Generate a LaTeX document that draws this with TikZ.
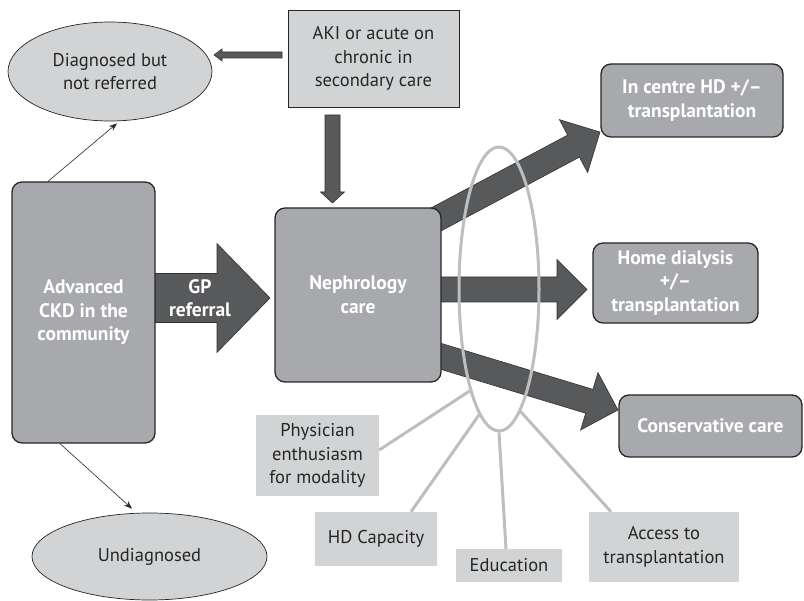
\documentclass[tikz,border=0pt]{standalone}
\usepackage{fontspec}
\setmainfont{PT Sans}
\usetikzlibrary{shapes.geometric,arrows.meta,calc}
\definecolor{midgray}{RGB}{167,169,172}
\definecolor{lightfill}{RGB}{209,211,212}
\definecolor{arrowdark}{RGB}{88,89,91}
\definecolor{ringgray}{RGB}{188,190,192}
\tikzset{
  rbox/.style={rectangle, rounded corners=10pt, fill=midgray, draw=black!85, line width=1.3pt,
    text=white, font=\fontsize{19.5}{23.5}\selectfont\bfseries, align=center, inner sep=0pt},
  fbox/.style={rectangle, fill=lightfill, draw=none, font=\fontsize{18.5}{23.5}\selectfont,
    align=center, inner sep=0pt, text=black!85},
  abox/.style={fbox, draw=black!85, line width=0.8pt},
  oval/.style={ellipse, fill=lightfill, draw=black!85, line width=0.7pt,
    font=\fontsize{18.5}{23.5}\selectfont, align=center, inner sep=0pt, text=black!85},
  bigarrow/.style={fill=arrowdark, draw=black!80, line width=0.6pt, line join=miter},
  thinarrow/.style={draw=black!85, line width=0.6pt, -{Stealth[length=8pt,width=6pt]}},
  factor/.style={draw=ringgray, line width=3pt},
  whitetext/.style={text=white, font=\fontsize{19.5}{23.5}\selectfont\bfseries, align=center, inner sep=0pt},
}
\newcommand\blockarrow[7]{%
  \begin{scope}[shift={(#1,#2)},rotate=#3]
    \draw[bigarrow] (0,-#5) -- ({#4-#7},-#5) -- ({#4-#7},-#6) -- (#4,0)
      -- ({#4-#7},#6) -- ({#4-#7},#5) -- (0,#5) -- cycle;
  \end{scope}}
\begin{document}
\begin{tikzpicture}[x=1pt,y=-1pt]
\useasboundingbox (0,0) rectangle (804,601);

% big arrows out of nephrology care
\blockarrow{420}{228}{28.07}{204}{12.5}{30}{30}
\blockarrow{420}{289.5}{0}{167}{12.5}{30}{30}
\blockarrow{420}{350}{-16.86}{206.9}{12.5}{30}{30}

% GP referral arrow
\draw[bigarrow] (150,273.5) -- (217,273.5) -- (217,243.5) -- (270,298) -- (217,352.5)
  -- (217,322.5) -- (150,322.5) -- cycle;

% AKI arrows
\draw[bigarrow] (282,52) -- (282,58) -- (222,58) -- (222,61) -- (214,55) -- (222,49) -- (222,52) -- cycle;
\draw[bigarrow] (325,115) -- (340,115) -- (340,192) -- (344.5,192) -- (332.5,203)
  -- (320.5,192) -- (325,192) -- cycle;

% nodes
\node[oval, minimum width=204pt, minimum height=99pt] (dnr) at (110,71.5) {Diagnosed but\\not referred};
\node[abox, minimum width=171pt, minimum height=97pt] (aki) at (373.5,58.5) {AKI or acute on\\chronic in\\secondary care};
\node[rbox, minimum width=143pt, minimum height=261pt] (ckd) at (83.5,312.5) {Advanced\\CKD in the\\community};
\node[rbox, minimum width=166pt, minimum height=174pt] (neph) at (358,295) {Nephrology\\care};
\node[rbox, minimum width=182pt, minimum height=73pt] (ich) at (692,100.5) {In centre HD +/–\\transplantation};
\node[rbox, minimum width=165pt, minimum height=80pt] (home) at (675.5,283) {Home dialysis\\+/–\\transplantation};
\node[rbox, minimum width=183pt, minimum height=62pt] (cons) at (710.5,426) {Conservative care};
\node[oval, minimum width=235pt, minimum height=87pt] (und) at (149.5,556.5) {Undiagnosed};
\node[fbox, minimum width=123pt, minimum height=81pt] (phys) at (317.5,455.5) {Physician\\enthusiasm\\for modality};
\node[fbox, minimum width=122pt, minimum height=54pt] (hdc) at (376,539) {HD Capacity};
\node[fbox, minimum width=106pt, minimum height=33pt] (edu) at (509,565.5) {Education};
\node[fbox, minimum width=150pt, minimum height=70pt] (acc) at (664,547) {Access to\\transplantation};
\node[whitetext] (gp) at (200,298) {GP\\referral};

% factor ring and its spokes
\node[ellipse, draw=ringgray, line width=3pt, minimum width=80pt, minimum height=284pt, inner sep=0pt] (ring) at (499,289) {};
\draw[factor] ([yshift=5.5pt]phys.east) -- (ring.254);
\draw[factor] ([xshift=35pt]hdc.north) -- (ring.261.6);
\draw[factor] ([xshift=-3pt]edu.north) -- (ring.south);
\draw[factor] ([xshift=-53pt]acc.north) -- (ring.280);

% thin arrows
\draw[thinarrow] ([xshift=-35.5pt]ckd.north) -- ([xshift=7pt,yshift=-2pt]dnr.south);
\draw[thinarrow] ([xshift=-23.5pt]ckd.south) -- ([xshift=-17.5pt,yshift=4pt]und.north);
\end{tikzpicture}
\end{document}
